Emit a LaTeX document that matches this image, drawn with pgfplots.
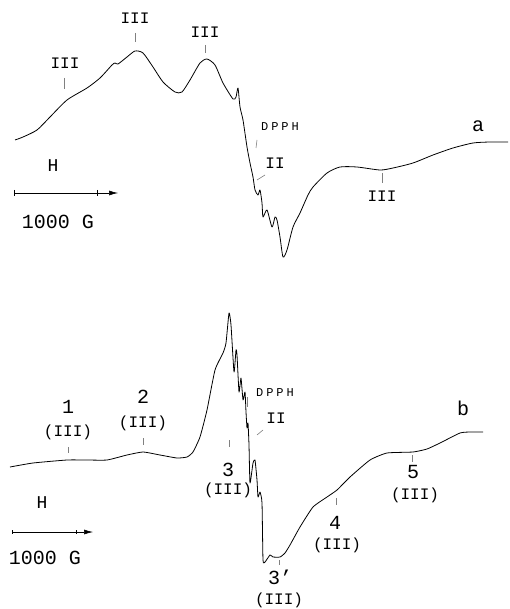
\documentclass[border=0pt]{standalone}
\usepackage{pgfplots}
\pgfplotsset{compat=1.18}
\usepackage{fontspec}
\setmainfont{Liberation Mono}
\usetikzlibrary{arrows.meta}

\newcommand\fs[1]{\fontsize{#1}{#1}\selectfont}

\begin{document}
\begin{tikzpicture}
\begin{axis}[
    scale only axis,
    width=509pt, height=609pt,
    xmin=0, xmax=509, ymin=0, ymax=609,
    y dir=reverse,
    hide axis,
    clip=false,
]
% spectrum a
\addplot[black, line width=0.8pt, line join=round, smooth, tension=0.4] coordinates {
 (15,140)(23,137)(37,130)(50,117)(67,100)(87,88)(100,78)(112,65)(115,63)(118,64)
 (127,57)(135,51)(143,53)(153,67)(163,82)(175,92)(182,92)(190,80)(200,63)(207,59)
 (215,65)(223,83)(233,99)(236,97)(238,88)(240,107)(243,120)(247,147)(250,163)(253,177)
 (255,190)(258,195)(260,190)(262,203)(263,217)(267,210)(272,227)(275,217)(277,220)(280,237)
 (283,257)(287,250)(293,227)(300,213)(308,195)(313,187)(327,173)(340,167)(357,167)(380,170)
 (393,168)(413,163)(433,155)(453,148)(473,143)(490,142)(508,142)
};
% spectrum b
\addplot[black, line width=0.8pt, line join=round, smooth, tension=0.3] coordinates {
 (10,467)(33,463)(67,460)(87,460)(107,460)(127,455)(143,452)(160,455)(177,458)(187,457)
 (193,452)(200,437)(207,410)(215,370)(223,353)(226,343)(229,313)(231,325)(234,372)(236,350)
 (237,355)(239,392)(241,378)(243,400)(245,392)(246,412)(247,428)(248,423)(249,445)(250,483)
 (253,463)(255,460)(257,480)(258,497)(260,492)(262,503)(263,560)(265,562)(270,555)(273,557)
 (280,557)(285,553)(290,545)(300,527)(313,507)(327,497)(337,490)(350,477)(370,460)(387,453)
 (413,452)(427,449)(440,443)(460,433)(470,432)(483,432)
};

% label ticks
\begin{scope}[gray, line width=0.6pt]
\draw (axis cs:64,78) -- (axis cs:64,89);
\draw (axis cs:135,33) -- (axis cs:135,42);
\draw (axis cs:205,45) -- (axis cs:205,53);
\draw (axis cs:257,140) -- (axis cs:256,148);
\draw (axis cs:257,180) -- (axis cs:265,175);
\draw (axis cs:382,173) -- (axis cs:382,183);
\draw (axis cs:68,447) -- (axis cs:68,453);
\draw (axis cs:143,438) -- (axis cs:143,445);
\draw (axis cs:229,440) -- (axis cs:229,447);
\draw (axis cs:247,397) -- (axis cs:247,407);
\draw (axis cs:257,435) -- (axis cs:263,430);
\draw (axis cs:279,560) -- (axis cs:279,565);
\draw (axis cs:336,498) -- (axis cs:336,505);
\draw (axis cs:412,455) -- (axis cs:412,462);
\end{scope}

% field arrows
\draw[black, line width=0.6pt, -{Latex[length=9pt,width=5pt]}] (axis cs:14,193) -- (axis cs:118,193);
\draw[black, line width=0.6pt] (axis cs:14,190) -- (axis cs:14,196) (axis cs:97,190) -- (axis cs:97,196);
\draw[black, line width=0.6pt, -{Latex[length=9pt,width=5pt]}] (axis cs:12,532) -- (axis cs:93,532);
\draw[black, line width=0.6pt] (axis cs:12,530) -- (axis cs:12,534) (axis cs:76,530) -- (axis cs:76,534);

% text, spectrum a
\node[font=\fs{16}] at (axis cs:65,63) {III};
\node[font=\fs{16}] at (axis cs:135,18) {III};
\node[font=\fs{16}] at (axis cs:205,32) {III};
\node[font=\fs{12}\addfontfeatures{LetterSpace=25}] at (axis cs:280,127) {DPPH};
\node[font=\fs{16}] at (axis cs:275,163) {II};
\node[font=\fs{16}] at (axis cs:382,196) {III};
\node[font=\fs{20}] at (axis cs:478,126) {a};
\node[font=\fs{18}] at (axis cs:53,166) {H};
\node[font=\fs{20}] at (axis cs:58,222) {1000 G};

% text, spectrum b
\node[font=\fs{20}] at (axis cs:68,407) {1};
\node[font=\fs{16}] at (axis cs:68,432) {(III)};
\node[font=\fs{20}] at (axis cs:143,397) {2};
\node[font=\fs{16}] at (axis cs:143,423) {(III)};
\node[font=\fs{20}] at (axis cs:228,470) {3};
\node[font=\fs{16}] at (axis cs:228,490) {(III)};
\node[font=\fs{12}\addfontfeatures{LetterSpace=25}] at (axis cs:275,393) {DPPH};
\node[font=\fs{16}] at (axis cs:276,418) {II};
\node[font=\fs{20}] at (axis cs:280,577) {3'};
\node[font=\fs{16}] at (axis cs:279,600) {(III)};
\node[font=\fs{20}] at (axis cs:335,523) {4};
\node[font=\fs{16}] at (axis cs:337,545) {(III)};
\node[font=\fs{20}] at (axis cs:413,472) {5};
\node[font=\fs{16}] at (axis cs:415,495) {(III)};
\node[font=\fs{20}] at (axis cs:463,408) {b};
\node[font=\fs{18}] at (axis cs:42,503) {H};
\node[font=\fs{20}] at (axis cs:45,558) {1000 G};
\end{axis}
\pgfresetboundingbox
\path[use as bounding box] (current axis.south west) rectangle (current axis.north east);
\end{tikzpicture}
\end{document}
